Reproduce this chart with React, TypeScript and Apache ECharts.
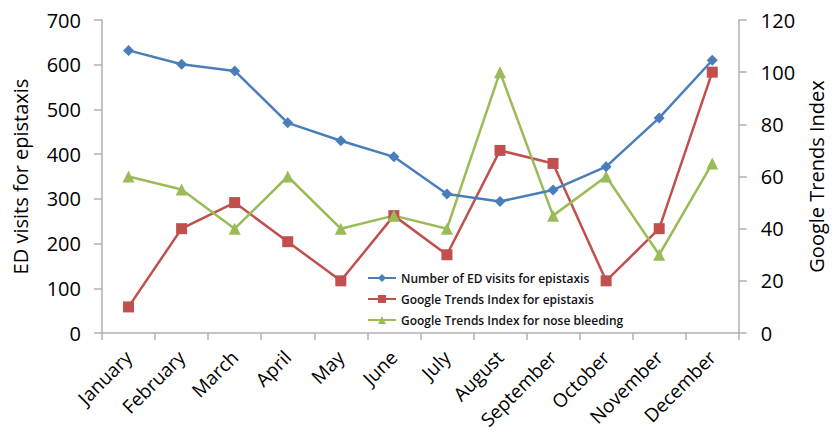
import React, { useEffect, useRef } from "react";
import * as echarts from "echarts";

const months = ["January","February","March","April","May","June","July","August","September","October","November","December"];
const edVisits = [632, 601, 586, 470, 430, 394, 311, 294, 320, 372, 481, 610];
const trendsEpistaxis = [10, 40, 50, 35, 20, 45, 30, 70, 65, 20, 40, 100];
const trendsNoseBleeding = [60, 55, 40, 60, 40, 45, 40, 100, 45, 60, 30, 65];
const leftTicks = { min: 0, max: 700, interval: 100 };
const rightTicks = { min: 0, max: 120, interval: 20 };

const FONT = "'Open Sans', sans-serif";
const AXIS_COLOR = "#b0b0b0";

export default function App() {
  const ref = useRef<HTMLDivElement>(null);
  useEffect(() => {
    if (!ref.current) return;
    const chart = echarts.init(ref.current, undefined, { renderer: "svg" });
    chart.setOption({
      animation: false,
      backgroundColor: "#ffffff",
      textStyle: { fontFamily: FONT },
      grid: { left: 102, right: 82, top: 20, bottom: 107, containLabel: false },
      legend: {
        orient: "vertical",
        left: 362,
        top: 267,
        itemWidth: 28,
        itemHeight: 10,
        itemGap: 9,
        textStyle: { fontFamily: FONT, fontSize: 12, color: "#111", fontWeight: 600 },
        data: [
          "Number of ED visits for epistaxis",
          "Google Trends Index for epistaxis",
          "Google Trends Index for nose bleeding",
        ],
      },
      xAxis: {
        type: "category",
        data: months,
        boundaryGap: true,
        axisLine: { lineStyle: { color: AXIS_COLOR, width: 1.5 } },
        axisTick: { show: true, alignWithLabel: false, length: 7, lineStyle: { color: AXIS_COLOR, width: 1.5 } },
        axisLabel: { rotate: 45, fontSize: 19, color: "#000", margin: 21, interval: 0, fontFamily: FONT },
        splitLine: { show: false },
      },
      yAxis: [
        {
          type: "value",
          position: "left",
          ...leftTicks,
          name: "ED visits for epistaxis",
          nameLocation: "middle",
          nameRotate: 90,
          nameGap: 72,
          nameTextStyle: { fontSize: 20, color: "#000", fontFamily: FONT },
          axisLine: { show: true, lineStyle: { color: AXIS_COLOR, width: 1.5 } },
          axisTick: { show: true, length: 8, lineStyle: { color: AXIS_COLOR, width: 1.5 } },
          axisLabel: { fontSize: 20, color: "#000", margin: 21, fontFamily: FONT },
          splitLine: { show: false },
        },
        {
          type: "value",
          position: "right",
          ...rightTicks,
          name: "Google Trends Index",
          nameLocation: "middle",
          nameRotate: 90,
          nameGap: 66,
          nameTextStyle: { fontSize: 20, color: "#000", fontFamily: FONT },
          axisLine: { show: true, lineStyle: { color: AXIS_COLOR, width: 1.5 } },
          axisTick: { show: true, length: 8, lineStyle: { color: AXIS_COLOR, width: 1.5 } },
          axisLabel: { fontSize: 20, color: "#000", margin: 22, fontFamily: FONT },
          splitLine: { show: false },
        },
      ],
      series: [
        {
          name: "Number of ED visits for epistaxis",
          type: "line",
          yAxisIndex: 0,
          data: edVisits,
          symbol: "diamond",
          symbolSize: 11,
          itemStyle: { color: "#4a7ebb" },
          lineStyle: { color: "#4a7ebb", width: 2.5 },
          z: 3,
        },
        {
          name: "Google Trends Index for epistaxis",
          type: "line",
          yAxisIndex: 1,
          data: trendsEpistaxis,
          symbol: "rect",
          symbolSize: 11,
          itemStyle: { color: "#c0504d" },
          lineStyle: { color: "#c0504d", width: 2.5 },
          z: 2,
        },
        {
          name: "Google Trends Index for nose bleeding",
          type: "line",
          yAxisIndex: 1,
          data: trendsNoseBleeding,
          symbol: "triangle",
          symbolSize: 12,
          itemStyle: { color: "#9bbb59" },
          lineStyle: { color: "#9bbb59", width: 2.5 },
          z: 2,
        },
      ],
    });
    return () => chart.dispose();
  }, []);
  return (
    <div
      ref={ref}
      style={{ position: "absolute", left: 0, top: 0, width: 834, height: 440 }}
    />
  );
}
